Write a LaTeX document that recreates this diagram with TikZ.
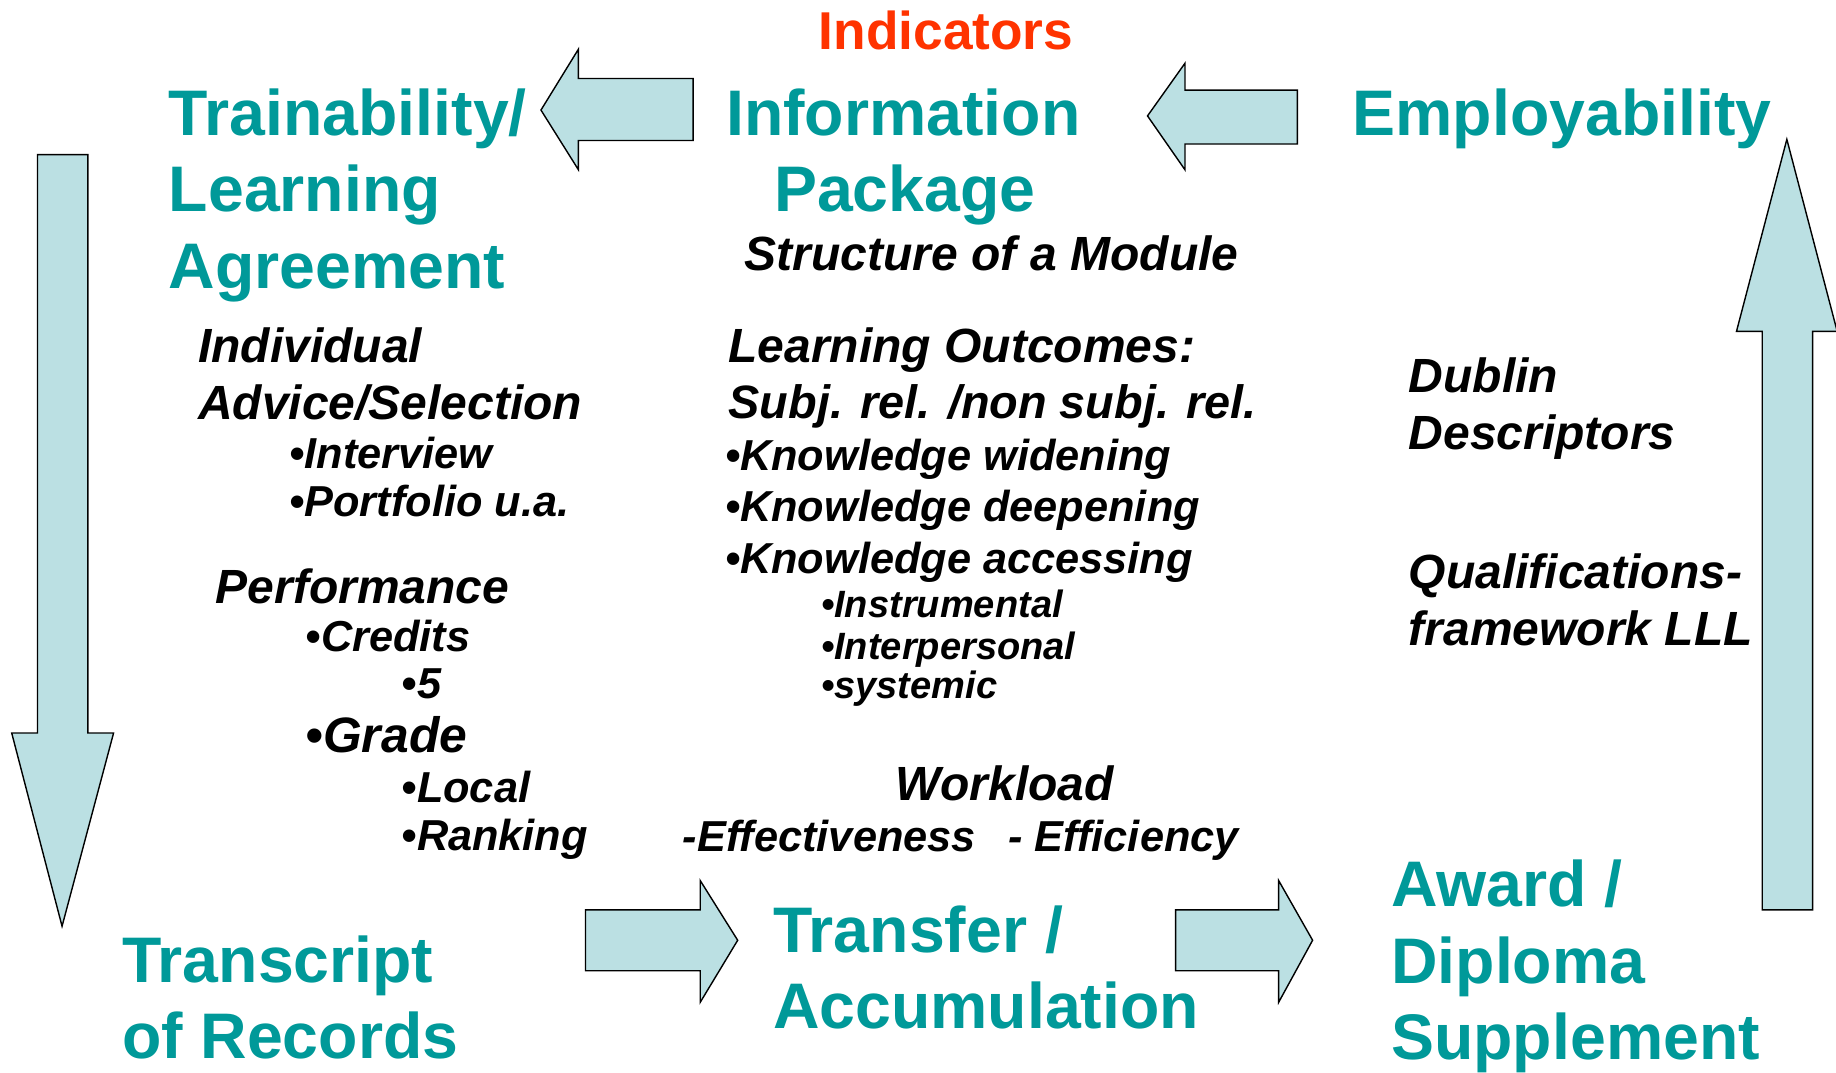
\documentclass[tikz,border=0pt]{standalone}
\usepackage{fontspec}
\setmainfont{Liberation Sans}
\definecolor{headteal}{HTML}{009999}
\definecolor{arrowfill}{HTML}{BBE0E3}
\definecolor{indred}{HTML}{FF3300}
\tikzset{
  headtxt/.style={anchor=base west, inner sep=0pt, text=headteal, font=\fontsize{55}{65}\selectfont\bfseries},
  redtxt/.style={anchor=base west, inner sep=0pt, text=indred, font=\fontsize{45.5}{54}\selectfont\bfseries},
  maintxt/.style={anchor=base west, inner sep=0pt, font=\fontsize{41}{48}\selectfont\bfseries\itshape},
  bullettxt/.style={anchor=base west, inner sep=0pt, font=\fontsize{37}{44}\selectfont\bfseries\itshape},
  smalltxt/.style={anchor=base west, inner sep=0pt, font=\fontsize{32.5}{38}\selectfont\bfseries\itshape},
  blockarrow/.style={fill=arrowfill, draw=black, line width=1.2pt, line join=miter},
}
\begin{document}
\begin{tikzpicture}[x=1pt, y=-1pt]
\useasboundingbox (0,0) rectangle (1568,916);
\fill[white] (0,0) rectangle (1568,916);

% block arrows
\draw[blockarrow] (592,67) -- (494,67) -- (494,42) -- (462,94) -- (494,145) -- (494,120) -- (592,120) -- cycle;
\draw[blockarrow] (1108,77) -- (1012,77) -- (1012,54) -- (980,99) -- (1012,145) -- (1012,123) -- (1108,123) -- cycle;
\draw[blockarrow] (32,132) -- (75,132) -- (75,626) -- (97,626) -- (53,791) -- (10,626) -- (32,626) -- cycle;
\draw[blockarrow] (500,777) -- (598,777) -- (598,752) -- (630,803) -- (598,856) -- (598,829) -- (500,829) -- cycle;
\draw[blockarrow] (1004,777) -- (1092,777) -- (1092,752) -- (1121,803) -- (1092,856) -- (1092,829) -- (1004,829) -- cycle;
\draw[blockarrow] (1505,777) -- (1505,283) -- (1483,283) -- (1526,119) -- (1569,283) -- (1548,283) -- (1548,777) -- cycle;

% headings
\node[redtxt] (ind) at (699,42) {Indicators};
\node[headtxt] (tr1) at (144,116) {Trainability/};
\node[headtxt] (tr2) at (144,181) {Learning};
\node[headtxt] (tr3) at (144,246.5) {Agreement};
\node[headtxt] (ip1) at (620,115.5) {Information};
\node[headtxt] (ip2) at (661,181) {Package};
\node[headtxt] (emp) at (1155,115.5) {Employability};
\node[headtxt] (tor1) at (104,839) {Transcript};
\node[headtxt] (tor2) at (104,904) {of Records};
\node[headtxt] (ta1) at (660,813.5) {Transfer /};
\node[headtxt] (ta2) at (660,878.5) {Accumulation};
\node[headtxt] (aw1) at (1188,774.5) {Award /};
\node[headtxt] (aw2) at (1188,840) {Diploma};
\node[headtxt] (aw3) at (1188,905) {Supplement};

% middle column
\node[maintxt] (som) at (636,231) {Structure of a Module};
\node[maintxt] (lo1) at (622,309.5) {Learning Outcomes:};
\node[maintxt, font=\fontsize{40}{48}\selectfont\bfseries\itshape] (lo2) at (622,357.5) {Subj. rel. /non subj. rel.};
\node[bullettxt] (kw) at (619,402) {•Knowledge widening};
\node[bullettxt] (kd) at (619,445) {•Knowledge deepening};
\node[bullettxt] (ka) at (619,490) {•Knowledge accessing};
\node[smalltxt] (ki) at (701,527.5) {•Instrumental};
\node[smalltxt] (kp) at (701,563.5) {•Interpersonal};
\node[smalltxt] (ks) at (701,596.5) {•systemic};
\node[maintxt] (wl) at (765,684) {Workload};
\node[bullettxt] (eff1) at (583,727.5) {-Effectiveness};
\node[bullettxt] (eff2) at (861,727.5) {- Efficiency};

% left column
\node[maintxt] (iv1) at (169,309.5) {Individual};
\node[maintxt] (iv2) at (169,358) {Advice/Selection};
\node[bullettxt] (int) at (247,400) {•Interview};
\node[bullettxt] (pfo) at (247,441) {•Portfolio u.a.};
\node[maintxt] (perf) at (184,515.5) {Performance};
\node[bullettxt] (cr) at (261,556.5) {•Credits};
\node[bullettxt] (five) at (343,596.5) {•5};
\node[maintxt, font=\fontsize{42.5}{50}\selectfont\bfseries\itshape] (gr) at (261,643) {•Grade};
\node[bullettxt] (loc) at (343,685) {•Local};
\node[bullettxt] (rank) at (343,726) {•Ranking};

% right column
\node[maintxt] (db1) at (1203,335) {Dublin};
\node[maintxt] (db2) at (1203,384) {Descriptors};
\node[maintxt] (qf1) at (1203,502.5) {Qualifications-};
\node[maintxt] (qf2) at (1203,551.5) {framework LLL};
\end{tikzpicture}
\end{document}
